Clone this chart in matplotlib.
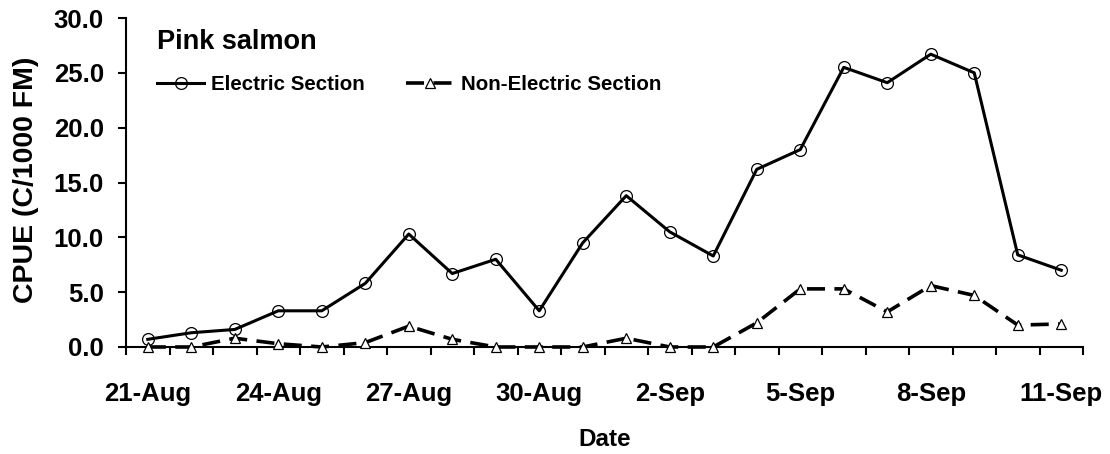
import numpy as np
import matplotlib.pyplot as plt
from matplotlib.lines import Line2D

plt.rcParams['font.family'] = ['Liberation Sans', 'DejaVu Sans']
plt.rcParams['font.weight'] = 'bold'

# Data
dates = ['21-Aug', '22-Aug', '23-Aug', '24-Aug', '25-Aug', '26-Aug', '27-Aug',
         '28-Aug', '29-Aug', '30-Aug', '31-Aug', '1-Sep', '2-Sep', '3-Sep',
         '4-Sep', '5-Sep', '6-Sep', '7-Sep', '8-Sep', '9-Sep', '10-Sep', '11-Sep']
electric = [0.7, 1.3, 1.6, 3.3, 3.3, 5.8, 10.3, 6.7, 8.0, 3.3, 9.5,
            13.8, 10.5, 8.3, 16.2, 18.0, 25.5, 24.1, 26.7, 25.0, 8.4, 7.0]
non_electric = [0.0, 0.0, 0.8, 0.3, 0.0, 0.4, 1.9, 0.7, 0.0, 0.0, 0.0,
                0.8, 0.0, 0.0, 2.2, 5.3, 5.3, 3.2, 5.6, 4.7, 2.0, 2.1]
yticks = [0, 5, 10, 15, 20, 25, 30]

x = np.arange(len(dates))

W, H = 1110, 454
L, R, T, B = 126, 1083, 18, 347   # axes box in pixels
fig = plt.figure(figsize=(W / 100, H / 100), dpi=100)
ax = fig.add_axes([L / W, 1 - B / H, (R - L) / W, (B - T) / H])

solid_kw = dict(color='black', linewidth=2.2, marker='o', markersize=8.5,
                markerfacecolor='none', markeredgecolor='black', markeredgewidth=0.9)
dash_kw = dict(color='black', linewidth=2.6, dashes=(5, 2.6), marker='^',
               markersize=7, markerfacecolor='white', markeredgecolor='black',
               markeredgewidth=0.9)

ax.plot(x, electric, clip_on=False, zorder=3, **solid_kw)
ax.plot(x, non_electric, clip_on=False, zorder=3, **dash_kw)

ax.set_xlim(-0.5, len(dates) - 0.5)
ax.set_ylim(0, 30)

# tick marks between categories, labels every third day
ax.set_xticks(np.arange(-0.5, len(dates), 1.0))
ax.set_xticklabels([])
ax.tick_params(axis='x', which='major', direction='out', length=6, width=1.5)
ax.set_xticks(x[::3], minor=True)
ax.set_xticklabels(dates[::3], minor=True)
ax.tick_params(axis='x', which='minor', length=0, labelsize=18.5, pad=25)

ax.set_yticks(yticks)
ax.set_yticklabels(['%.1f' % v for v in yticks])
ax.tick_params(axis='y', direction='out', length=6, width=1.5, labelsize=18.5, pad=10)

for s in ['top', 'right']:
    ax.spines[s].set_visible(False)
for s in ['left', 'bottom']:
    ax.spines[s].set_linewidth(1.5)

ax.set_xlabel('Date', fontsize=17.5, fontweight='bold', va='top')
ax.xaxis.set_label_coords(0.5, -(428 - B) / (B - T), transform=ax.transAxes)
ax.set_ylabel('CPUE (C/1000 FM)', fontsize=20.5, fontweight='bold', va='center')
ax.yaxis.set_label_coords(-(L - 26) / (R - L), (B - 180) / (B - T), transform=ax.transAxes)

fig.text(157 / W, 1 - 42 / H, 'Pink salmon', fontsize=19.5,
         fontweight='bold', va='center', ha='left')

handles = [Line2D([], [], **solid_kw), Line2D([], [], **dash_kw)]
ax.legend(handles, ['Electric Section', 'Non-Electric Section'], loc='center left',
          bbox_to_anchor=(157 / W, 1 - 85 / H), bbox_transform=fig.transFigure,
          ncol=2, frameon=False, borderpad=0, borderaxespad=0,
          handlelength=2.3, handletextpad=0.35, columnspacing=2.0,
          prop={'weight': 'bold', 'size': 14.8})

fig.savefig('out.png', dpi=100)
